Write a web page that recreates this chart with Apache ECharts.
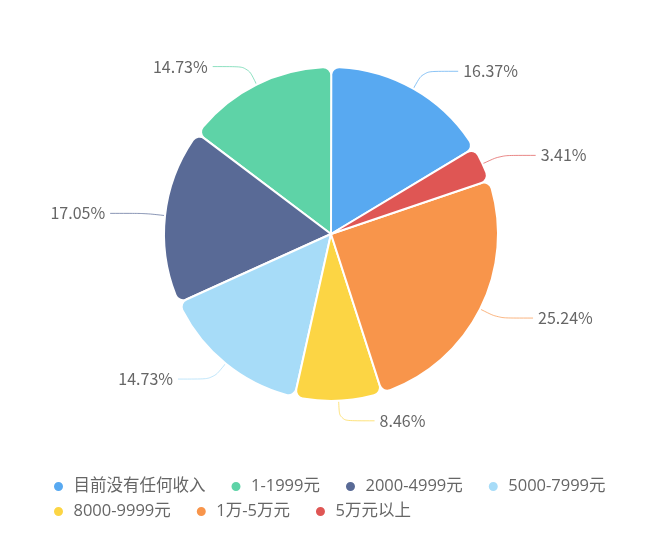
<!DOCTYPE html>
<html>
<head>
<meta charset="utf-8">
<script src="https://cdn.jsdelivr.net/npm/echarts@6/dist/echarts.min.js"></script>
<style>
    html, body { margin: 0; padding: 0; background: #fff; }
    #chart_income { width: 657px; height: 538px; }
</style>
</head>
<body>
<div id="chart_income"></div>
<script>
var categories = ['目前没有任何收入', '1-1999元', '2000-4999元', '5000-7999元', '8000-9999元', '1万-5万元', '5万元以上'];
var shares = [16.37, 14.73, 17.05, 14.73, 8.46, 25.24, 3.41];
var colors = ['#58a9f1', '#5ed3a7', '#596a96', '#a7dcf8', '#fcd544', '#f8954b', '#df5654'];

var myChart = echarts.init(document.getElementById('chart_income'));
var pieData = [];
for (var i = 0; i < categories.length; i++) {
    pieData.push({ name: categories[i], value: shares[i] });
}
var option = {
    color: colors,
    textStyle: {
        fontFamily: '"Noto Sans CJK SC", "Noto Sans", sans-serif'
    },
    legend: {
        left: 47,
        top: 473,
        width: 600,
        icon: 'circle',
        itemWidth: 20,
        itemHeight: 11,
        itemGap: 8,
        textStyle: {
            color: '#666',
            fontSize: 16.5,
            fontFamily: '"Open Sans", "Noto Sans CJK SC", sans-serif',
            lineHeight: 17,
            padding: [0, 16, 0, 0]
        },
        data: categories
    },
    series: [
        {
            type: 'pie',
            center: [331, 234],
            radius: [0, 167],
            clockwise: false,
            startAngle: 31,
            itemStyle: {
                borderColor: '#fff',
                borderWidth: 2,
                borderRadius: 8
            },
            label: {
                color: '#666',
                fontSize: 16,
                formatter: function (p) {
                    return p.value.toFixed(2) + '%';
                }
            },
            labelLine: {
                length: 20,
                length2: 35,
                smooth: 0.3,
                lineStyle: { opacity: 0.7 }
            },
            data: pieData
        }
    ]
};
myChart.setOption(option);
</script>
</body>
</html>
